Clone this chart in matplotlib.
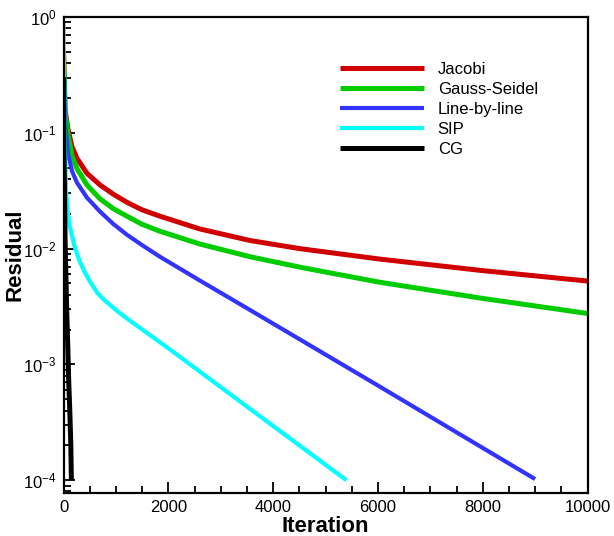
import matplotlib
matplotlib.use('Agg')
import matplotlib.pyplot as plt
import numpy as np
from matplotlib.ticker import LogLocator, MultipleLocator, NullFormatter

plt.rcParams['font.family'] = ['Liberation Sans', 'DejaVu Sans']
plt.rcParams['mathtext.fontset'] = 'custom'
plt.rcParams['mathtext.rm'] = 'Liberation Sans'
plt.rcParams['mathtext.it'] = 'Liberation Sans:italic'
plt.rcParams['mathtext.bf'] = 'Liberation Sans:bold'

# ---------------------------------------------------------------------------
# Data (residuals given as log10 values)
# ---------------------------------------------------------------------------

jacobi_it  = [0, 30, 86, 162, 257, 448, 696, 950, 1210, 1500, 1840, 2600, 3560,
              4510, 6030, 8000, 10000]
jacobi_log = [-0.3, -0.8, -0.97, -1.12, -1.22, -1.35, -1.45, -1.53, -1.60, -1.665,
              -1.72, -1.83, -1.93, -2.00, -2.09, -2.19, -2.28]

gs_it  = [0, 30, 86, 162, 257, 448, 696, 950, 1210, 1500, 1840, 2600, 3560,
          4510, 6030, 8000, 10000]
gs_log = [-0.3, -0.82, -1.02, -1.20, -1.31, -1.45, -1.57, -1.655, -1.72, -1.79,
          -1.85, -1.96, -2.07, -2.16, -2.29, -2.43, -2.56]

lbl_it  = [0, 30, 86, 162, 257, 448, 696, 950, 1210, 1500, 1840, 2600, 3560, 6030, 9000]
lbl_log = [-0.3, -0.9, -1.18, -1.33, -1.43, -1.56, -1.68, -1.787, -1.88, -1.97,
           -2.07, -2.275, -2.53, -3.19, -3.99]

sip_it  = [0, 10, 25, 50, 80, 115, 210, 300, 400, 500, 650, 780, 1000, 1200,
           2030, 3310, 5400]
sip_log = [-0.05, -0.5, -1.1, -1.5, -1.68, -1.80, -1.98, -2.10, -2.20, -2.28,
           -2.385, -2.445, -2.53, -2.60, -2.87, -3.30, -4.0]

cg_it  = [0, 5, 10, 20, 30, 45, 60, 80, 100, 120, 140, 150]
cg_log = [-0.52, -0.82, -1.22, -1.52, -1.92, -2.22, -2.52, -2.82, -3.15, -3.40, -3.70, -4.0]

labels = ['Jacobi', 'Gauss-Seidel', 'Line-by-line', 'SIP', 'CG']
colors = ['#d00000', '#00cc00', '#3333ff', '#00ffff', '#000000']

# ---------------------------------------------------------------------------
# Plot
# ---------------------------------------------------------------------------

fig = plt.figure(figsize=(6.14, 5.36), dpi=100)
ax = fig.add_axes([63.5 / 614, 1 - 493 / 536, 524 / 614, 476 / 536])

series = [(jacobi_it, jacobi_log), (gs_it, gs_log), (lbl_it, lbl_log),
          (sip_it, sip_log), (cg_it, cg_log)]
widths = [3.6, 3.6, 3.0, 3.0, 3.6]
for (it, lg), lab, col, lw in zip(series, labels, colors, widths):
    ax.plot(it, 10.0 ** np.asarray(lg), color=col, lw=lw, label=lab,
            solid_capstyle='butt', solid_joinstyle='round')

ax.set_yscale('log')
ax.set_xlim(0, 10000)
ax.set_ylim(10 ** -4.11, 1)

ax.xaxis.set_major_locator(MultipleLocator(2000))
ax.xaxis.set_minor_locator(MultipleLocator(500))
ax.yaxis.set_major_locator(LogLocator(base=10, numticks=10))
ax.yaxis.set_minor_locator(LogLocator(base=10, subs=range(2, 10), numticks=20))
ax.yaxis.set_minor_formatter(NullFormatter())

ax.tick_params(which='both', direction='in', top=False, right=False,
               labelsize=12, width=1.3)
ax.tick_params(which='major', length=8, pad=5)
ax.tick_params(which='minor', length=5)
for sp in ax.spines.values():
    sp.set_linewidth(1.6)

ax.set_xlabel('Iteration', fontsize=16, fontweight='bold', labelpad=1)
ax.set_ylabel('Residual', fontsize=16, fontweight='bold', labelpad=-2)

ax.legend(loc='upper left', bbox_to_anchor=(0.528, 0.905), frameon=False,
          fontsize=12, handlelength=5.0, handletextpad=0.85,
          labelspacing=0.3, borderpad=0, borderaxespad=0)

fig.savefig('out.png', dpi=100)
